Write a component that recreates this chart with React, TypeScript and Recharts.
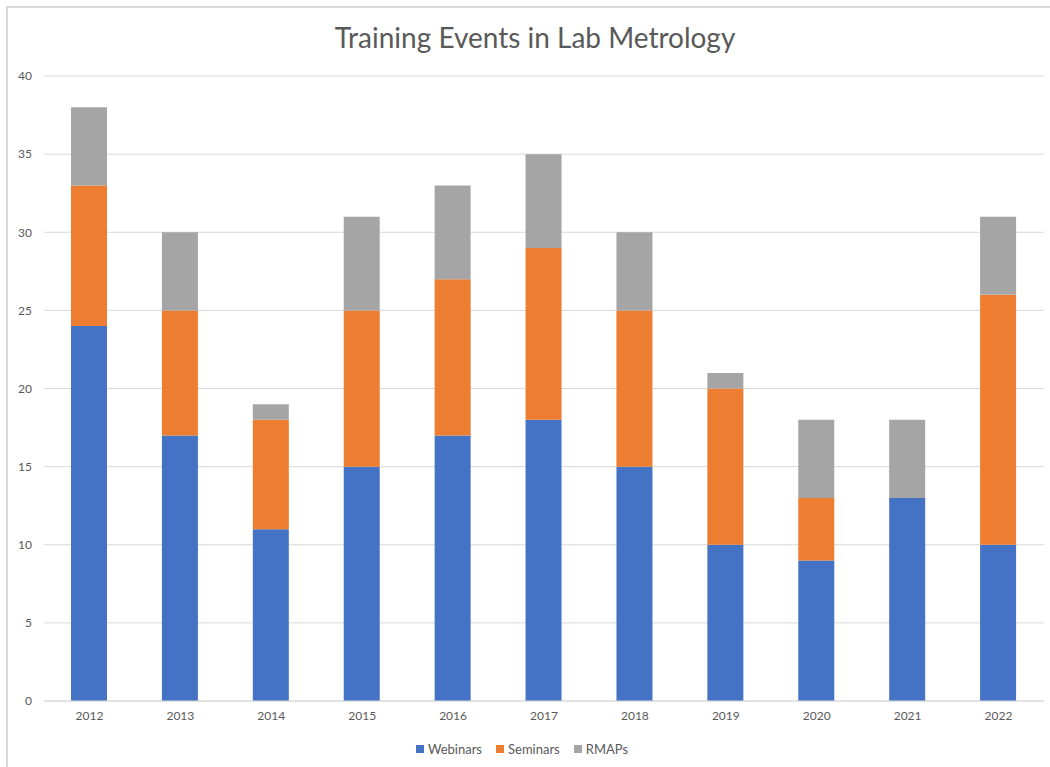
import { BarChart, Bar, XAxis, YAxis, CartesianGrid, Legend } from 'recharts';

const years = ['2012', '2013', '2014', '2015', '2016', '2017', '2018', '2019', '2020', '2021', '2022'];
const webinars = [24, 17, 11, 15, 17, 18, 15, 10, 9, 13, 10];
const seminars = [9, 8, 7, 10, 10, 11, 10, 10, 4, 0, 16];
const rmaps = [5, 5, 1, 6, 6, 6, 5, 1, 5, 5, 5];
const yTicks = [0, 5, 10, 15, 20, 25, 30, 35, 40];

const series = [
  { key: 'Webinars', color: '#4472C4' },
  { key: 'Seminars', color: '#ED7D31' },
  { key: 'RMAPs', color: '#A5A5A5' },
];

const data = years.map((year, i) => ({
  year,
  Webinars: webinars[i],
  Seminars: seminars[i],
  RMAPs: rmaps[i],
}));

const font = 'Lato, "Open Sans", "Liberation Sans", sans-serif';

// legend in the original series order
const LegendContent = () => (
  <div style={{ display: 'flex', justifyContent: 'center', gap: 14, fontSize: 13, color: '#595959' }}>
    {series.map((s) => (
      <span key={s.key} style={{ display: 'flex', alignItems: 'center' }}>
        <span style={{ width: 8, height: 8, background: s.color, marginRight: 4, display: 'inline-block' }} />
        {s.key}
      </span>
    ))}
  </div>
);

const App = () => {
  return (
    <div style={{ position: 'absolute', left: 0, top: 0, width: 1050, height: 767, fontFamily: font, overflow: 'hidden' }}>
      {/* outer chart frame, only left and top edges are visible */}
      <div
        style={{
          position: 'absolute',
          left: 6,
          top: 6,
          width: 1050,
          height: 767,
          borderLeft: '2px solid #d9d9d9',
          borderTop: '2px solid #d9d9d9',
        }}
      />
      <div
        style={{
          position: 'absolute',
          left: 0,
          top: 20,
          width: 1070,
          textAlign: 'center',
          fontSize: 28,
          color: '#595959',
        }}
      >
        Training Events in Lab Metrology
      </div>
      <div style={{ position: 'absolute', left: 0, top: 0 }}>
        <BarChart width={1050} height={767} data={data} margin={{ top: 76, right: 6, left: 0, bottom: 20 }}>
          <CartesianGrid vertical={false} stroke="#d9d9d9" />
          <XAxis
            dataKey="year"
            height={30}
            tickLine={false}
            axisLine={{ stroke: '#d9d9d9' }}
            tick={{ fill: '#595959', fontSize: 12 }}
            tickMargin={4}
          />
          <YAxis
            width={44}
            domain={[0, 40]}
            ticks={yTicks}
            tickLine={false}
            axisLine={false}
            tick={{ fill: '#595959', fontSize: 12 }}
            tickMargin={6}
          />
          <Legend verticalAlign="bottom" content={LegendContent} wrapperStyle={{ bottom: 10 }} />
          {series.map((s) => (
            <Bar key={s.key} dataKey={s.key} stackId="a" fill={s.color} barSize={36} isAnimationActive={false} />
          ))}
        </BarChart>
      </div>
    </div>
  );
};

export default App;
